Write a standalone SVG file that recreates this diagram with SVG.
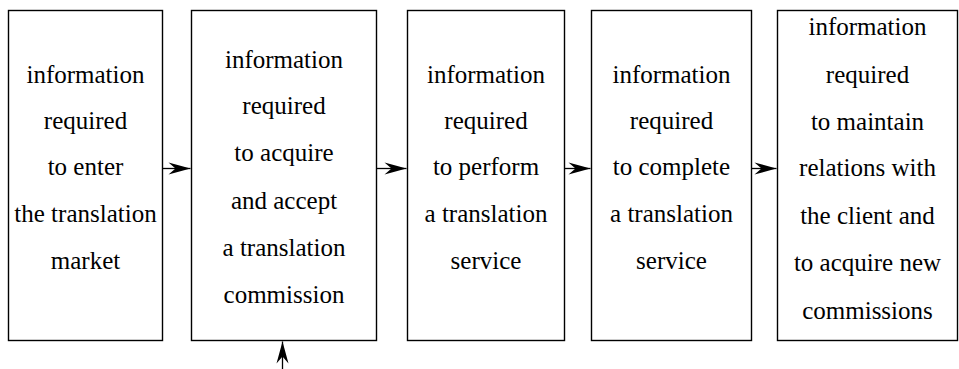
<svg xmlns="http://www.w3.org/2000/svg" width="959" height="369" viewBox="0 0 959 369">
<style>
.box{fill:#fff;stroke:#000;stroke-width:1.4}
.t{font-family:'Liberation Serif',Tinos,'Times New Roman','DejaVu Serif',serif;font-size:25px;fill:#000;text-anchor:middle}
.c{stroke:#000;stroke-width:1.3;fill:none}
</style>
<defs>
<marker id="ah" markerUnits="userSpaceOnUse" markerWidth="24" markerHeight="14" viewBox="-23 -7 24 14" refX="0" refY="0" orient="auto">
<path d="M0,0 L-22,-6 L-15,0 L-22,6 Z" fill="#000"/>
</marker>
</defs>
<g id="n1">
<rect class="box" x="8.5" y="10.5" width="154" height="330"/>
<text class="t"><tspan x="85.5" y="83">information</tspan><tspan x="85.5" y="129">required</tspan><tspan x="85.5" y="175">to enter</tspan><tspan x="85.5" y="222">the translation</tspan><tspan x="85.5" y="269">market</tspan></text>
</g>
<g id="n2">
<rect class="box" x="191.5" y="10.5" width="185" height="330"/>
<text class="t"><tspan x="284" y="68">information</tspan><tspan x="284" y="114">required</tspan><tspan x="284" y="161">to acquire</tspan><tspan x="284" y="209">and accept</tspan><tspan x="284" y="256">a translation</tspan><tspan x="284" y="303">commission</tspan></text>
</g>
<g id="n3">
<rect class="box" x="407.5" y="10.5" width="157" height="330"/>
<text class="t"><tspan x="486" y="83">information</tspan><tspan x="486" y="129">required</tspan><tspan x="486" y="175">to perform</tspan><tspan x="486" y="222">a translation</tspan><tspan x="486" y="269">service</tspan></text>
</g>
<g id="n4">
<rect class="box" x="591.5" y="10.5" width="160" height="330"/>
<text class="t"><tspan x="671.5" y="83">information</tspan><tspan x="671.5" y="129">required</tspan><tspan x="671.5" y="175">to complete</tspan><tspan x="671.5" y="222">a translation</tspan><tspan x="671.5" y="269">service</tspan></text>
</g>
<g id="n5">
<rect class="box" x="777.5" y="10.5" width="180" height="330"/>
<text class="t"><tspan x="867.5" y="35">information</tspan><tspan x="867.5" y="83">required</tspan><tspan x="867.5" y="130">to maintain</tspan><tspan x="867.5" y="176">relations with</tspan><tspan x="867.5" y="224">the client and</tspan><tspan x="867.5" y="271">to acquire new</tspan><tspan x="867.5" y="319">commissions</tspan></text>
</g>
<g id="connectors">
<line class="c" x1="163" y1="168.5" x2="190.5" y2="168.5" marker-end="url(#ah)"/>
<line class="c" x1="377" y1="168.5" x2="406.5" y2="168.5" marker-end="url(#ah)"/>
<line class="c" x1="565" y1="168.5" x2="590.5" y2="168.5" marker-end="url(#ah)"/>
<line class="c" x1="752" y1="168.5" x2="776.5" y2="168.5" marker-end="url(#ah)"/>
<line class="c" x1="282.5" y1="369" x2="282.5" y2="341.5" marker-end="url(#ah)"/>
</g>
</svg>
